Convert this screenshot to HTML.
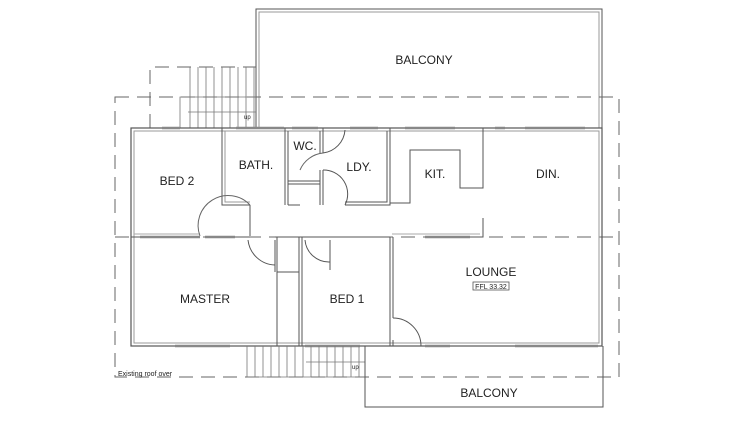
<!DOCTYPE html>
<html><head><meta charset="utf-8"><style>
html,body{margin:0;padding:0;background:#fff;width:750px;height:422px;overflow:hidden}
svg{display:block}
text{font-family:"Liberation Sans",sans-serif;fill:#222}
</style></head><body>
<svg width="750" height="422" viewBox="0 0 750 422" xmlns="http://www.w3.org/2000/svg">
<g fill="none" stroke="#555" stroke-width="1">
<!-- top balcony -->
<path d="M256 128 V9 H602 V128"/>
<path d="M259 128 V12 H599 V128" stroke="#999"/>
<!-- roof dashed -->
<g stroke-dasharray="14,8" stroke="#666">
<path d="M115 97 H619 V377 H115 Z"/>
<path d="M115 237 H619"/>
<path d="M150 128 V67 H256"/>
</g>
<!-- top stairs -->
<g stroke="#777" stroke-width="0.8">
<path d="M180 128 V97 H256"/>
<path d="M188 112 H256"/>
<path d="M190 67 V128 M198 67 V128 M206 67 V128 M214 67 V128 M222 67 V128 M230 67 V128 M238 67 V128 M246 67 V128 M254 67 V128"/>
</g>
<!-- house outer double walls -->
<rect x="131" y="128" width="471" height="218" stroke-width="1.2"/>
<rect x="134" y="131" width="465" height="212" stroke="#999"/>
<!-- interior walls -->
<path d="M222 128 V205 H250 M222 128 V205"/>
<path d="M225 131 V202 H250" stroke="#999"/>
<path d="M285 128 V205 M288 131 V205"/>
<path d="M323 128 V153 M320 131 V153 M323 170 V205 M320 170 V205"/>
<path d="M288 181 H320 M288 184 H320"/>
<path d="M288 205 H300 M345 205 H390 V128 M387 131 V202 H345"/>
<path d="M390 203 H410 V150 H460 V188 H483 V128"/>
<path d="M131 237 H200 M230 237 H250 M275 237 H330 M330 237 H390 M425 237 H483 V218" />
<path d="M134 234 H200 M392 234 H480" stroke="#aaa"/>
<path d="M277 237 V346 M299 237 V346 M277 272 H299"/>
<path d="M275 240 V272 M302 237 V346 M330 240 V270"/>
<path d="M390 237 V346 M393 237 V318 M393 340 V346"/>
<!-- door arcs -->
<path d="M200 236 A30 30 0 0 1 250 205" stroke="#666"/>
<path d="M250 205 V236"/>
<path d="M300 170 A28 28 0 0 1 323 153" stroke="#666"/>
<path d="M323 153 A25 25 0 0 0 345 130"/>
<path d="M323 170 A24 24 0 0 1 345 205"/>
<path d="M248 240 A28 28 0 0 0 275 265"/>
<path d="M305 240 A24 24 0 0 0 330 262"/>
<path d="M393 318 A28 28 0 0 1 421 346"/>
<!-- windows (grey patches) -->
<g stroke="#888" stroke-width="2.5">
<path d="M162 128 H180 M236 128 H284 M292 128 H318 M350 128 H378 M405 128 H455 M495 128 H505 M525 128 H585"/>
<path d="M140 237 H200 M205 237 H235 M425 237 H470"/>
<path d="M175 346 H230 M305 346 H360 M425 346 H450 M515 346 H598"/>
</g>
<!-- bottom stairs -->
<g stroke="#777" stroke-width="0.8">
<path d="M247 346 V377 M255 346 V377 M263 346 V377 M271 346 V377 M279 346 V377 M287 346 V377 M295 346 V377 M303 346 V377 M311 346 V377 M319 346 V377 M327 346 V377 M335 346 V377 M343 346 V377 M351 346 V377 M359 346 V377"/>
<path d="M306 362 H365"/>
<path d="M247 377 H365"/>
</g>
<!-- bottom balcony -->
<path d="M365 346 V407 H603 V346"/>
<!-- ffl box -->
<rect x="473" y="282" width="36" height="8" stroke-width="0.8"/>
</g>
<text x="424" y="64" font-size="12" text-anchor="middle">BALCONY</text>
<text x="177" y="185" font-size="12" text-anchor="middle">BED 2</text>
<text x="256" y="169" font-size="12" text-anchor="middle">BATH.</text>
<text x="305" y="150" font-size="12" text-anchor="middle">WC.</text>
<text x="359" y="171" font-size="12" text-anchor="middle">LDY.</text>
<text x="435" y="178" font-size="12" text-anchor="middle">KIT.</text>
<text x="548" y="178" font-size="12" text-anchor="middle">DIN.</text>
<text x="205" y="303" font-size="12" text-anchor="middle">MASTER</text>
<text x="347" y="303" font-size="12" text-anchor="middle">BED 1</text>
<text x="491" y="276" font-size="12" text-anchor="middle">LOUNGE</text>
<text x="491" y="289" font-size="7" text-anchor="middle">FFL 33.32</text>
<text x="489" y="397" font-size="12" text-anchor="middle">BALCONY</text>
<text x="118" y="376" font-size="7">Existing roof over</text>
<text x="244" y="119" font-size="6">up</text>
<text x="352" y="369" font-size="6">up</text>
</svg>
</body></html>
